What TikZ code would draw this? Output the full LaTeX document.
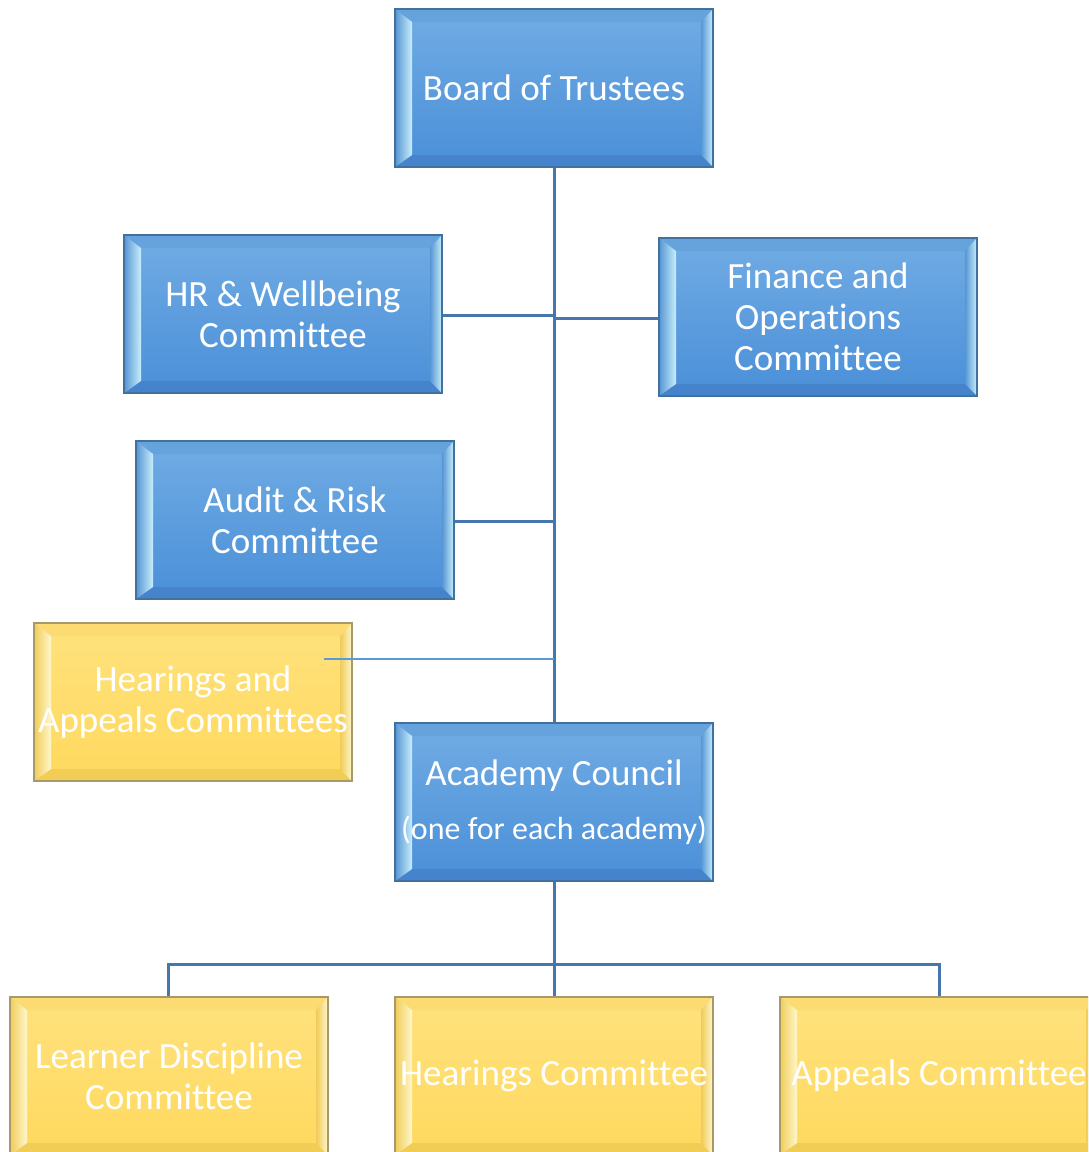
\documentclass[tikz,border=0pt]{standalone}
\usepackage{fontspec}
\setmainfont{Carlito}[Ligatures=CommonOff]
\definecolor{btop}{HTML}{71ACE4}
\definecolor{bbot}{HTML}{4A8FD8}
\definecolor{bborder}{HTML}{41719C}
\definecolor{btopbev}{HTML}{66A2DC}
\definecolor{bbotbev}{HTML}{4584CC}
\definecolor{bside}{HTML}{5696D4}
\definecolor{blight}{HTML}{C8EEFB}
\definecolor{ytop}{HTML}{FFE27E}
\definecolor{ybot}{HTML}{FFD95E}
\definecolor{yborder}{HTML}{A8996A}
\definecolor{ytopbev}{HTML}{FBDB72}
\definecolor{ybotbev}{HTML}{F2CD55}
\definecolor{yside}{HTML}{F0CB58}
\definecolor{ylight}{HTML}{FFF8CC}
\definecolor{lcol}{HTML}{4577AE}
\definecolor{thincol}{HTML}{5B9BD5}
\newcommand\bevelparts[4]{%
  \coordinate (bvNW) at (path picture bounding box.north west);
  \coordinate (bvNE) at (path picture bounding box.north east);
  \coordinate (bvSW) at (path picture bounding box.south west);
  \coordinate (bvSE) at (path picture bounding box.south east);
  \fill[#1] (bvNW) -- (bvNE) -- ([xshift=-12pt,yshift=-13pt]bvNE) -- ([xshift=17pt,yshift=-13pt]bvNW) -- cycle;
  \fill[#2] (bvSW) -- (bvSE) -- ([xshift=-12pt,yshift=12pt]bvSE) -- ([xshift=17pt,yshift=12pt]bvSW) -- cycle;
  \shade[left color=#3,right color=#4] (bvNW) -- ([xshift=17pt,yshift=-13pt]bvNW) -- ([xshift=17pt,yshift=12pt]bvSW) -- (bvSW) -- cycle;
  \shade[left color=#3,right color=#4] (bvNE) -- ([xshift=-12pt,yshift=-13pt]bvNE) -- ([xshift=-12pt,yshift=12pt]bvSE) -- (bvSE) -- cycle;
}
\tikzset{
  orgbox/.style={rectangle, minimum width=318pt, minimum height=158pt, inner sep=0pt,
    line width=1.3pt, text=white, align=center, font=\fontsize{37}{41}\selectfont},
  bluebox/.style={orgbox, draw=bborder, top color=btop, bottom color=bbot,
    path picture={\bevelparts{btopbev}{bbotbev}{bside}{blight}}},
  yellowbox/.style={orgbox, draw=yborder, top color=ytop, bottom color=ybot,
    path picture={\bevelparts{ytopbev}{ybotbev}{yside}{ylight}}},
  link/.style={draw=lcol, line width=3pt},
  thinlink/.style={draw=thincol, line width=1.4pt}
}
\begin{document}
\begin{tikzpicture}[x=1pt,y=-1pt]
\clip (0,0) rectangle (1088,1152);
\fill[white] (0,0) rectangle (1088,1152);
% connectors first
\coordinate (bus) at (554,964);
\coordinate (trunkHR) at (554,315);
\coordinate (trunkFin) at (554,318);
\coordinate (trunkAud) at (554,521);
\coordinate (trunkHA) at (554,659);
\draw[link] (554,167) -- (554,723);
\draw[link] (443,315) -- (trunkHR);
\draw[link] (trunkFin) -- (660,318);
\draw[link] (455,521) -- (trunkAud);
\draw[link] (554,881) -- (bus);
\draw[link] (168,997) |- (bus) -| (939,997);
\draw[link] (bus) -- (554,997);
% boxes
\node[bluebox] (board) at (554,88) {Board of Trustees};
\node[bluebox] (hr) at (283,314) {HR \& Wellbeing\\Committee};
\node[bluebox] (fin) at (818,317) {Finance and\\Operations\\Committee};
\node[bluebox] (audit) at (295,520) {Audit \& Risk\\Committee};
\node[yellowbox] (ha) at (193,702) {Hearings and\\Appeals Committees};
\node[bluebox] (council) at (554,802) {Academy Council\\[13pt]{\fontsize{32}{38}\selectfont(one for each academy)}};
\node[yellowbox] (ld) at (169,1076) {Learner Discipline\\Committee};
\node[yellowbox] (hc) at (554,1076) {Hearings Committee};
\node[yellowbox] (apc) at (939,1076) {Appeals Committee};
% thin connector over hearings box
\draw[thinlink] ([xshift=-29pt]trunkHA -| ha.east) -- (trunkHA);
\end{tikzpicture}
\end{document}
